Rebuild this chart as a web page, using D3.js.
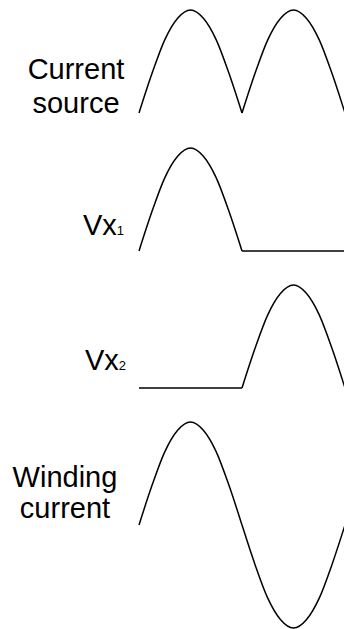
<!DOCTYPE html>
<html>
<head>
<meta charset="utf-8">
<script src="https://cdn.jsdelivr.net/npm/d3@7"></script>
<style>
  body { margin: 0; background: #fff; }
  svg { display: block; }
  text { font-family: "Liberation Sans", Arial, sans-serif; fill: #000; }
</style>
</head>
<body>
<div id="chart"></div>
<script>
// phase in half-periods, 8 samples per half-cycle
const phase = [0, 0.125, 0.25, 0.375, 0.5, 0.625, 0.75, 0.875, 1,
               1.125, 1.25, 1.375, 1.5, 1.625, 1.75, 1.875, 2];

// normalised amplitudes
const currentSource = [0, 0.38, 0.71, 0.92, 1, 0.92, 0.71, 0.38, 0,
                       0.38, 0.71, 0.92, 1, 0.92, 0.71, 0.38, 0];
const vx1 = [0, 0.38, 0.71, 0.92, 1, 0.92, 0.71, 0.38, 0,
             0, 0, 0, 0, 0, 0, 0, 0];
const vx2 = [0, 0, 0, 0, 0, 0, 0, 0, 0,
             0.38, 0.71, 0.92, 1, 0.92, 0.71, 0.38, 0];
const windingCurrent = [0, 0.38, 0.71, 0.92, 1, 0.92, 0.71, 0.38, 0,
                        -0.38, -0.71, -0.92, -1, -0.92, -0.71, -0.38, 0];

const labels = [
  ["Current", "source"],
  [["Vx", "1"]],
  [["Vx", "2"]],
  ["Winding", "current"]
];

const width = 344, height = 629;

const svg = d3.select("#chart")
  .append("svg")
  .attr("width", width)
  .attr("height", height);

// x scale shared by all traces
const x = d3.scaleLinear().domain([0, 2]).range([139, 345]);

const amp = 103;
const baselines = [113, 251, 388, 525];
const series = [currentSource, vx1, vx2, windingCurrent];

const line = d3.line()
  .x(d => x(d.p))
  .y(d => d.yv)
  .curve(d3.curveMonotoneX);

series.forEach((vals, k) => {
  const y = d3.scaleLinear().domain([0, 1]).range([baselines[k], baselines[k] - amp]);
  const pts = phase.map((p, i) => ({ p: p, yv: y(vals[i]) }));
  // each half cycle drawn on its own so cusps and corners stay sharp
  [pts.slice(0, 9), pts.slice(8, 17)].forEach(seg => {
    svg.append("path")
      .attr("d", line(seg))
      .attr("fill", "none")
      .attr("stroke", "#000")
      .attr("stroke-width", 1.5);
  });
});

// labels
const fs = 29;
function twoLine(lines, cx, y1, y2) {
  svg.append("text").attr("x", cx).attr("y", y1)
    .attr("text-anchor", "middle").style("font-size", fs + "px").text(lines[0]);
  svg.append("text").attr("x", cx).attr("y", y2)
    .attr("text-anchor", "middle").style("font-size", fs + "px").text(lines[1]);
}
function subLabel(pair, xl, yb) {
  const t = svg.append("text").attr("x", xl).attr("y", yb)
    .style("font-size", fs + "px");
  t.append("tspan").text(pair[0]);
  t.append("tspan").style("font-size", "13px").text(pair[1]);
}

twoLine(labels[0], 76, 79, 113);
subLabel(labels[1][0], 83, 235);
subLabel(labels[2][0], 85, 370);
twoLine(labels[3], 65, 487, 518);
</script>
</body>
</html>
